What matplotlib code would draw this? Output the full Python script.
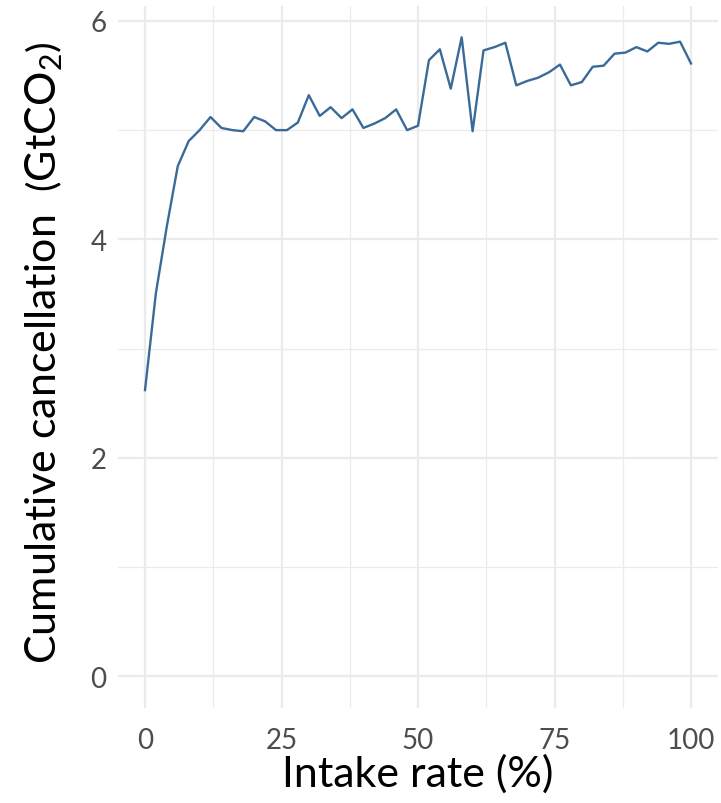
import numpy as np
import matplotlib.pyplot as plt
from matplotlib.ticker import MultipleLocator

# intake rate (%) and cumulative cancellation (GtCO2)
intake_rate = list(range(0, 101, 2))
cancellation = [
    2.62, 3.51, 4.12, 4.67, 4.90, 5.00, 5.12, 5.02, 5.00, 4.99,
    5.12, 5.08, 5.00, 5.00, 5.07, 5.32, 5.13, 5.21, 5.11, 5.19,
    5.02, 5.06, 5.11, 5.19, 5.00, 5.04, 5.64, 5.74, 5.38, 5.85,
    4.99, 5.73, 5.76, 5.80, 5.41, 5.45, 5.48, 5.53, 5.60, 5.41,
    5.44, 5.58, 5.59, 5.70, 5.71, 5.76, 5.72, 5.80, 5.79, 5.81,
    5.61,
]
x_ticks = [0, 25, 50, 75, 100]
y_ticks = [0, 2, 4, 6]

plt.rcParams['font.family'] = ['Lato', 'DejaVu Sans']
plt.rcParams['mathtext.fontset'] = 'custom'
plt.rcParams['mathtext.rm'] = 'Lato'

fig = plt.figure(figsize=(7.21, 8.04), dpi=100)
ax = fig.add_axes([117.7 / 721, 1 - 709 / 804, 600.6 / 721, 702.4 / 804])

ax.plot(intake_rate, cancellation, color='#3A6B98', lw=1.7, zorder=3)

ax.set_xlim(-5, 105)
ax.set_ylim(-0.29, 6.14)
ax.set_xticks(x_ticks)
ax.set_yticks(y_ticks)
ax.xaxis.set_minor_locator(MultipleLocator(12.5))
ax.yaxis.set_minor_locator(MultipleLocator(1))
ax.grid(which='major', color='#EBEBEB', lw=1.6)
ax.grid(which='minor', color='#EBEBEB', lw=0.9)
ax.set_axisbelow(True)
for s in ax.spines.values():
    s.set_visible(False)
ax.tick_params(which='both', length=0)
ax.tick_params(axis='x', labelsize=20, labelcolor='#4D4D4D', pad=14)
ax.tick_params(axis='y', labelsize=20, labelcolor='#4D4D4D', pad=8)

ax.set_xlabel('Intake rate (%)', fontsize=31)
ax.xaxis.set_label_coords(0.5, -0.065)
ax.set_ylabel(r'Cumulative cancellation  $\left(\mathrm{GtCO_2}\right)$',
              fontsize=31)
ax.yaxis.set_label_coords(-0.088, 0.507)

fig.savefig('out.png', dpi=100)
